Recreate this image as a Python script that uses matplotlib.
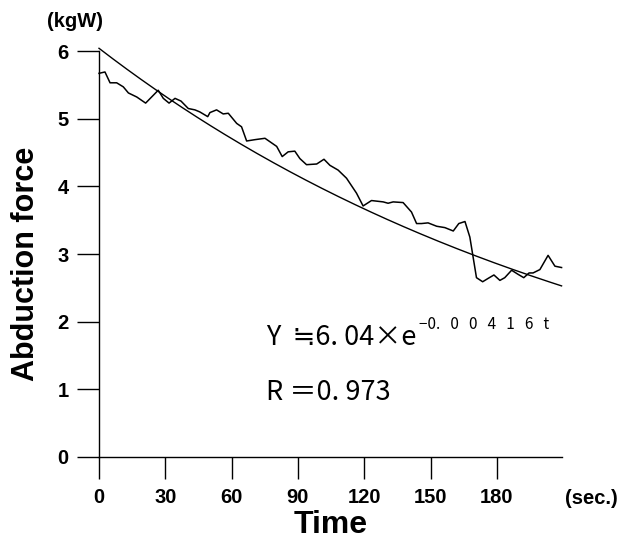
import numpy as np
import matplotlib
matplotlib.use("Agg")
import matplotlib.pyplot as plt

# Measured abduction force over time
time_sec = [0, 2.7, 5.0, 8.0, 11.0, 13.3, 17.1, 21.1, 26.8, 29.1, 31.7, 34.4, 37.1,
            40.4, 43.4, 45.6, 49.2, 50.2, 53.2, 56.2, 58.5, 62.3, 64.5, 66.8, 70.6,
            75.1, 80.4, 82.9, 85.6, 88.6, 90.9, 93.9, 98.5, 101.8, 104.5, 108.2,
            112.0, 116.5, 119.5, 123.3, 128.6, 130.8, 133.1, 137.6, 141.4, 143.7,
            145.9, 148.9, 152.8, 156.5, 160.3, 162.8, 165.6, 167.8, 170.8, 173.6,
            176.1, 178.7, 181.4, 183.6, 186.7, 189.6, 192.2, 194.6, 196.4, 199.5,
            203.2, 206.3, 209.3]
force_kgw = [5.67, 5.69, 5.53, 5.53, 5.47, 5.38, 5.32, 5.23, 5.42, 5.30, 5.23, 5.30,
             5.26, 5.15, 5.13, 5.10, 5.03, 5.09, 5.13, 5.07, 5.08, 4.93, 4.88, 4.67,
             4.69, 4.71, 4.59, 4.44, 4.51, 4.52, 4.41, 4.32, 4.33, 4.40, 4.31, 4.24,
             4.12, 3.90, 3.71, 3.79, 3.77, 3.75, 3.77, 3.76, 3.62, 3.45, 3.45, 3.46,
             3.41, 3.39, 3.34, 3.45, 3.48, 3.25, 2.65, 2.59, 2.64, 2.69, 2.61, 2.65,
             2.76, 2.70, 2.65, 2.72, 2.72, 2.77, 2.98, 2.82, 2.80]

# Exponential fit  Y = A * exp(-k t)
fit_a = 6.04
fit_k = 0.00416

x_ticks = [0, 30, 60, 90, 120, 150, 180]
y_ticks = [0, 1, 2, 3, 4, 5, 6]

bold_font = ["Liberation Sans", "DejaVu Sans"]
cjk_font = ["Noto Sans CJK JP", "DejaVu Sans"]

fig = plt.figure(figsize=(6.34, 5.42), dpi=100)
ax = fig.add_axes([99 / 634, 1 - 457 / 542, 463 / 634, 406 / 542])

t_fit = np.linspace(0, 209.3, 200)
ax.plot(t_fit, fit_a * np.exp(-fit_k * t_fit), color="black", lw=1.0, clip_on=False)
ax.plot(time_sec, force_kgw, color="black", lw=1.1, clip_on=False)

ax.set_xlim(0, 209.5)
ax.set_ylim(0, 6)
for side in ["top", "right"]:
    ax.spines[side].set_visible(False)
for side in ["left", "bottom"]:
    ax.spines[side].set_linewidth(1.0)

ax.set_xticks(x_ticks)
ax.set_yticks(y_ticks)
ax.tick_params(direction="out", length=16, width=1.0, pad=6)
for lab in ax.get_xticklabels() + ax.get_yticklabels():
    lab.set_family(bold_font)
    lab.set_fontweight("bold")
    lab.set_fontsize(14.5)

ax.set_xlabel("Time", family=bold_font, fontweight="bold", fontsize=23)
ax.xaxis.set_label_coords(0.5, -0.13)
ax.set_ylabel("Abduction force", family=bold_font, fontweight="bold", fontsize=22)
ax.yaxis.set_label_coords(-0.125, 0.475)

fig.text(47 / 634, 1 - 27 / 542, "(kgW)", family=bold_font, fontweight="bold", fontsize=14.5)
fig.text(565 / 634, 1 - 504 / 542, "(sec.)", family=bold_font, fontweight="bold", fontsize=14.5)

# Fit equation and correlation
eq = ax.text(75.5, 1.65, "Y  \u22526. 04\u00d7e", family=cjk_font, fontsize=19.5)
ax.annotate("\u22120.   0   0   4   1   6   t", xy=(1, 0), xycoords=eq, xytext=(2, 13),
            textcoords="offset points", va="bottom", family=cjk_font, fontsize=11)
ax.text(75.5, 0.84, "R \uff1d0. 973", family=cjk_font, fontsize=19.5)

fig.savefig("out.png", dpi=100)
